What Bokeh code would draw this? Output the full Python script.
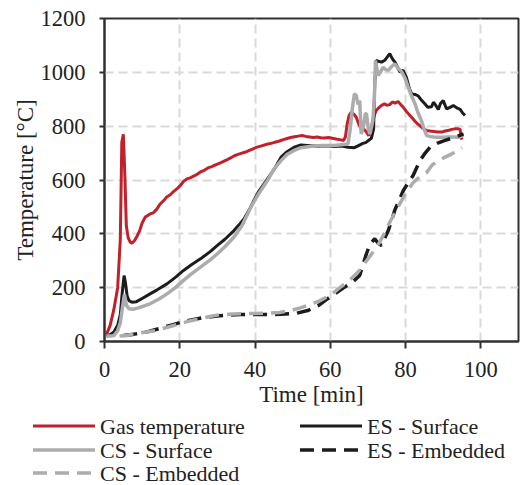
from bokeh.plotting import figure
from bokeh.layouts import column
from bokeh.models import Range1d, FixedTicker, Div
from bokeh.embed import file_html
from bokeh.resources import INLINE

# ---------------- data ----------------
gas_t = [0.5, 1.5, 2.5, 3.5, 4.2, 4.6, 5.0, 5.4, 5.8, 6.3, 6.8, 7.3, 8.0, 8.6, 9.3, 10.0, 10.8, 11.5, 12.1,
         13.0, 13.8, 14.8, 15.8, 16.6, 17.5, 18.4, 19.3, 20.2, 21.0, 21.9, 22.8, 23.8, 24.7, 25.5, 26.5,
         27.5, 28.5, 29.5, 30.5, 31.5, 32.5, 33.5, 34.5, 35.5, 36.5, 37.5, 38.5, 39.5, 40.5, 41.5, 42.5,
         43.5, 44.5, 45.5, 46.5, 47.5, 48.5, 49.5, 50.5, 51.5, 52.5, 53.5, 54.5, 55.5, 56.5, 57.5, 58.5,
         59.5, 60.5, 61.5, 62.5, 63.5, 64.0, 64.5, 65.0, 65.6, 66.2, 66.9, 67.5, 68.2, 68.8, 69.5, 70.2,
         70.8, 71.3, 71.8, 72.2, 73.0, 73.6, 74.4, 75.0, 75.8, 76.5, 77.2, 78.0, 78.7, 79.4, 80.2, 81.0,
         81.6, 82.5, 83.2, 83.8, 84.6, 85.6, 86.5, 87.5, 88.5, 89.6, 90.5, 91.5, 92.3, 93.1, 94.0, 94.5,
         94.7, 95.0]
gas_T = [25, 60, 120, 200, 380, 740, 770, 620, 430, 385, 370, 365, 375, 390, 410, 440, 462, 468, 474,
         478, 490, 511, 525, 538, 545, 558, 568, 580, 595, 604, 608, 615, 622, 630, 636,
         645, 650, 656, 662, 668, 675, 682, 690, 695, 700, 704, 710, 716, 722, 726, 730,
         734, 737, 741, 745, 750, 754, 758, 761, 763, 765, 762, 760, 758, 760, 757, 756,
         758, 755, 752, 750, 747, 760, 810, 840, 852, 845, 833, 810, 790, 790, 780, 765,
         790, 821, 845, 858, 870, 877, 883, 878, 880, 890, 885, 892, 880, 870, 855, 842,
         833, 818, 808, 802, 792, 784, 782, 780, 778, 778, 782, 785, 788, 790, 790, 788,
         760, 750]

es_surf_t = [0.5, 1.5, 2.5, 3.5, 4.2, 4.7, 5.2, 5.6, 6.0, 6.5, 7.3, 8.5, 10.0, 12.1, 14.0, 16.6, 19.0,
             21.0, 23.0, 25.5, 28.0, 30.0, 32.0, 34.4, 36.0, 37.1, 38.5, 39.7, 41.0, 42.4, 43.5, 45.1,
             46.9, 48.5, 50.4, 52.2, 54.0, 56.7, 59.0, 61.0, 63.0, 64.7, 66.4, 67.5, 68.5, 69.5, 70.9,
             71.5, 71.8, 72.2, 73.0, 73.6, 74.5, 75.3, 75.8, 76.5, 77.3, 78.5, 79.3, 80.2, 81.0, 81.6,
             82.5, 83.4, 84.3, 85.1, 85.9, 86.9, 87.4, 88.0, 88.7, 89.3, 90.0, 90.9, 91.8, 92.7, 93.6,
             94.5, 95.2, 95.8]
es_surf_T = [20, 25, 35, 60, 100, 180, 245, 215, 170, 152, 146, 148, 160, 177, 192, 214, 240,
             264, 284, 307, 333, 357, 380, 412, 438, 456, 490, 524, 558, 586, 608, 640,
             685, 705, 722, 730, 728, 725, 727, 724, 726, 722, 720, 728, 735, 740, 755,
             790, 960, 1044, 1040, 1038, 1045, 1060, 1069, 1050, 1035, 1001, 1008, 982, 940, 920,
             918, 912, 895, 883, 870, 872, 889, 878, 862, 885, 895, 864, 870, 877, 868,
             862, 848, 840]

cs_surf_t = [0.5, 1.5, 2.5, 3.5, 4.2, 4.8, 5.3, 5.8, 6.5, 7.5, 9.0, 10.5, 12.1, 14.5, 16.6, 19.0, 21.0,
             23.0, 25.5, 28.0, 30.0, 32.0, 34.4, 36.5, 38.9, 41.0, 43.3, 45.0, 46.9, 48.5, 50.4, 52.2,
             55.0, 58.0, 61.0, 63.5, 64.7, 65.3, 65.8, 66.4, 66.9, 67.4, 67.8, 68.2, 68.8, 69.3, 69.6,
             70.1, 70.5, 71.0, 71.3, 71.7, 72.0, 72.7, 73.3, 74.0, 74.7, 75.4, 76.2, 77.1, 78.0, 79.0,
             79.8, 80.7, 81.6, 82.5, 83.3, 84.2, 84.9, 85.6, 86.5, 87.5, 88.5, 89.6, 91.0, 92.5, 94.0,
             95.4]
cs_surf_T = [20, 20, 22, 40, 70, 130, 175, 135, 122, 120, 125, 132, 140, 158, 177, 202, 227,
             250, 276, 302, 326, 352, 388, 430, 499, 550, 598, 640, 672, 695, 710, 720,
             725, 728, 728, 732, 734, 790, 860, 920, 914, 880, 895, 771, 800, 846, 846,
             790, 771, 800, 821, 900, 1044, 988, 1000, 1019, 1010, 1007, 1020, 1032, 1015, 1001,
             980, 945, 912, 883, 850, 821, 790, 765, 762, 760, 759, 759, 760, 760, 759,
             765]

es_emb_t = [5, 7, 9, 12, 15, 18, 21, 24, 27, 30, 33, 36, 40, 44, 48, 51, 54, 57, 59.3, 61.5, 63.8,
            66, 67.8, 68.8, 69.6, 70.5, 71.8, 72.7, 73.6, 74.5, 75.4, 76.3, 77.1, 78.3, 79.4, 80.7,
            82, 83.8, 85.2, 86.5, 88.5, 90.5, 93.1, 95.4]
es_emb_T = [22, 25, 30, 38, 50, 62, 74, 83, 90, 95, 98, 100, 100, 100, 102, 105, 115, 135, 159, 180,
            202, 222, 245, 290, 326, 360, 382, 365, 357, 385, 412, 450, 487, 525, 561, 590,
            617, 672, 700, 722, 737, 747, 759, 771]

cs_emb_t = [4, 6, 8, 11, 13.9, 16.5, 19.3, 22, 25.5, 28, 30.4, 33, 36, 40, 43.3, 46.5, 49.5, 52, 54,
            57, 60, 62.7, 65, 67.5, 70, 71.5, 73.1, 74.5, 75.8, 78, 80, 82, 84, 85.6, 87, 88.7,
            90.5, 92.3, 94, 95]
cs_emb_T = [20, 22, 30, 35, 41, 52, 63, 74, 85, 93, 99, 101, 103, 104, 105, 108, 115, 125, 134,
            150, 172, 202, 225, 260, 307, 335, 369, 405, 443, 500, 550, 590, 615, 628, 655, 672,
            685, 697, 712, 720]

x_ticks = [0, 20, 40, 60, 80, 100]
y_ticks = [0, 200, 400, 600, 800, 1000, 1200]

series_labels = ["Gas temperature", "CS - Surface", "CS - Embedded", "ES - Surface", "ES - Embedded"]

FONT = "Liberation Serif"
RED = "#c1212b"
BLACK = "#1c1c1c"
GRAY = "#acacae"
DASH = "14 8"

# ---------------- main figure ----------------
p = figure(width=525, height=413, min_border_left=104, min_border_top=18,
           min_border_right=7, min_border_bottom=72,
           x_range=Range1d(0, 110), y_range=Range1d(0, 1200),
           output_backend="svg", toolbar_location=None,
           background_fill_color="white", border_fill_color="white")

p.outline_line_color = "#303030"
p.outline_line_width = 2
p.outline_line_alpha = 1

for ax in (p.xaxis[0], p.yaxis[0]):
    ax.axis_line_color = "#303030"
    ax.axis_line_width = 2
    ax.major_tick_line_color = "#303030"
    ax.major_tick_line_width = 2
    ax.major_tick_in = 0
    ax.minor_tick_line_color = None
    ax.major_label_text_font = FONT
    ax.major_label_text_font_size = "22.5px"
    ax.major_label_text_color = "#222222"
    ax.axis_label_text_font = FONT
    ax.axis_label_text_font_size = "23px"
    ax.axis_label_text_font_style = "normal"
    ax.axis_label_text_color = "#222222"

p.xaxis[0].ticker = FixedTicker(ticks=x_ticks)
p.yaxis[0].ticker = FixedTicker(ticks=y_ticks)
p.xaxis[0].major_tick_out = 7
p.yaxis[0].major_tick_out = 5
p.xaxis[0].major_label_standoff = 13
p.yaxis[0].major_label_standoff = 14
p.xaxis[0].axis_label = "Time [min]"
p.yaxis[0].axis_label = "Temperature [°C]"
p.xaxis[0].axis_label_standoff = 2
p.yaxis[0].axis_label_standoff = 0

for g in (p.xgrid[0], p.ygrid[0]):
    g.grid_line_color = "#d9d9d9"
    g.grid_line_width = 2
    g.grid_line_dash = "9 5"
p.ygrid[0].ticker = FixedTicker(ticks=y_ticks[1:-1])
p.xgrid[0].ticker = FixedTicker(ticks=x_ticks[1:])

p.line(gas_t, gas_T, line_color=RED, line_width=3)
p.line(es_surf_t, es_surf_T, line_color=BLACK, line_width=3)
p.line(cs_surf_t, cs_surf_T, line_color=GRAY, line_width=3.5)
p.line(es_emb_t, es_emb_T, line_color=BLACK, line_width=3.5, line_dash=DASH)
p.line(cs_emb_t, cs_emb_T, line_color=GRAY, line_width=3.5, line_dash=DASH)

# ---------------- legend strip below the plot (2 columns) ----------------
# (label, colour, width, dashed, column x, row y) -- layout of the legend keys
legend_spec = [
    (series_labels[0], RED, 3, False, 33, 13),
    (series_labels[1], GRAY, 3.5, False, 33, 37),
    (series_labels[2], GRAY, 3.5, True, 33, 60),
    (series_labels[3], BLACK, 3, False, 300, 13),
    (series_labels[4], BLACK, 3.5, True, 300, 37),
]
parts = []
for lab, col, lw, dashed, lx, ly in legend_spec:
    dash_attr = ' stroke-dasharray="14 8"' if dashed else ''
    parts.append(f'<line x1="{lx}" y1="{ly}" x2="{lx + 62}" y2="{ly}" stroke="{col}" '
                 f'stroke-width="{lw}"{dash_attr}/>')
    parts.append(f'<text x="{lx + 67}" y="{ly + 8}" '
                 f'style="font-family:\'Liberation Serif\',\'Times New Roman\',Times,serif;'
                 f'font-size:22px" fill="#222222">{lab}</text>')
svg = ('<svg xmlns="http://www.w3.org/2000/svg" width="525" height="72" '
       'style="display:block;position:absolute;left:0;top:0">' + "".join(parts) + '</svg>')
legend_div = Div(text='<div style="position:relative;width:525px;height:72px;margin:0;padding:0;'
                      'background:white;overflow:hidden">' + svg + '</div>',
                 width=525, height=72, margin=0)

layout = column(p, legend_div, spacing=0)
open("out.html", "w").write(file_html(layout, INLINE))
